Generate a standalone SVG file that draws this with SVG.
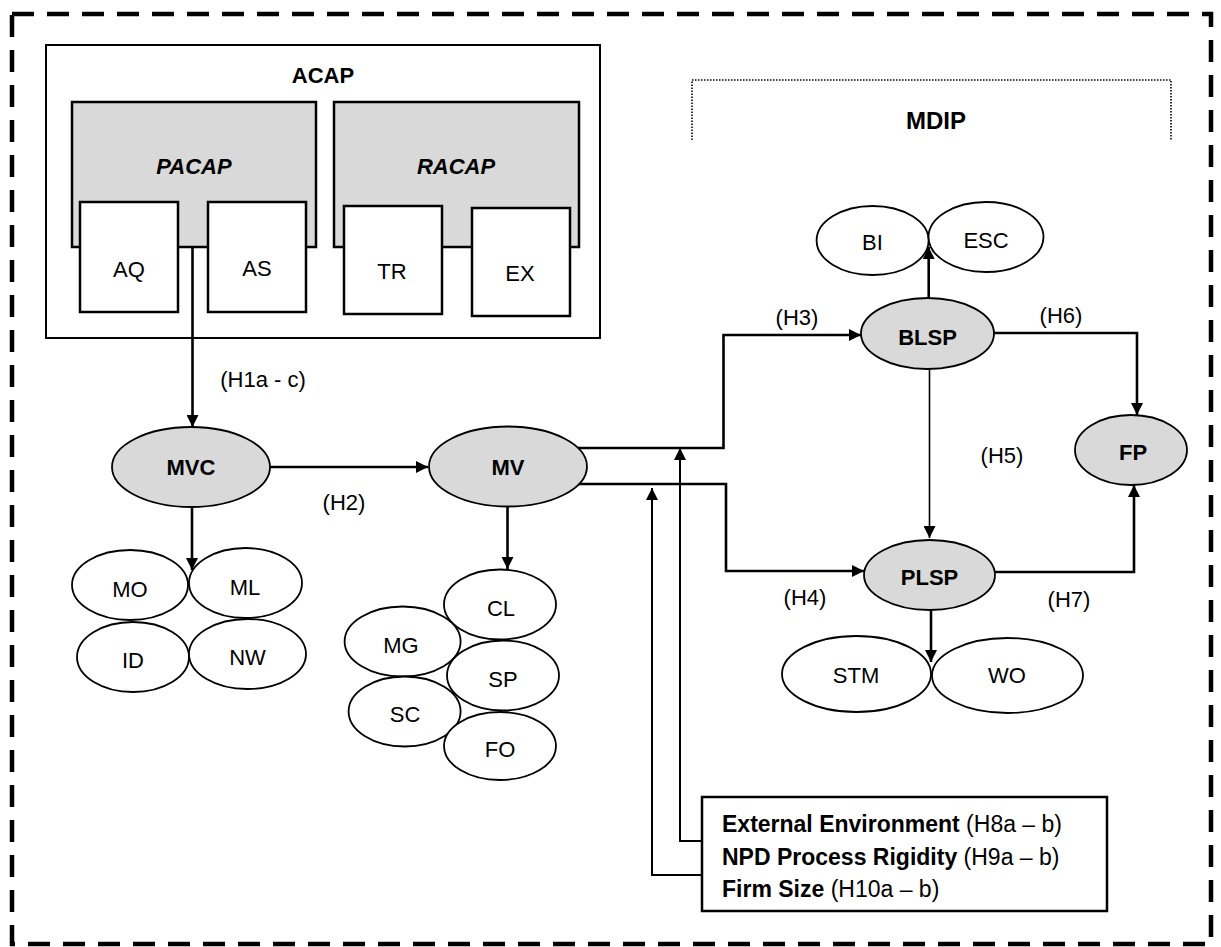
<svg xmlns="http://www.w3.org/2000/svg" width="1221" height="947" viewBox="0 0 1221 947">
<style>
text{font-family:"Liberation Sans",Arial,sans-serif;font-size:22px;fill:#000}
.b{font-weight:bold}
.bi{font-weight:bold;font-style:italic}
.c{text-anchor:middle}
.big{font-size:23px}
.nd{fill:#fff;stroke:#000;stroke-width:1.8}
.gr{fill:#d9d9d9;stroke:#000;stroke-width:1.8}
.bx{fill:#fff;stroke:#000;stroke-width:2.5}
.gbx{fill:#d9d9d9;stroke:#000;stroke-width:2.5}
.ln{fill:none;stroke:#000;stroke-width:2.6;marker-end:url(#ah)}
.thin{fill:none;stroke:#000;stroke-width:1.6;marker-end:url(#ah)}
.mod{fill:none;stroke:#000;stroke-width:2;marker-end:url(#ah)}
</style>
<defs>
<marker id="ah" markerUnits="userSpaceOnUse" markerWidth="12" markerHeight="12" refX="12" refY="6" orient="auto">
<path d="M0,0 L12,6 L0,12 z" fill="#000"/>
</marker>
</defs>
<rect x="0" y="0" width="1221" height="947" fill="#fff"/>
<g id="frame">
<rect x="12" y="14" width="1199" height="930" fill="none" stroke="#000" stroke-width="4.5" stroke-dasharray="22 13"/>
</g>
<g id="mdip">
<path d="M692,140 V80 H1171 V140" fill="none" stroke="#000" stroke-width="1.6" stroke-dasharray="1.5 1.5"/>
<text class="b c" x="936" y="129" style="font-size:24px">MDIP</text>
</g>
<g id="acap">
<rect x="46" y="45" width="554" height="293" fill="#fff" stroke="#000" stroke-width="2"/>
<text class="b c" x="323" y="83">ACAP</text>
</g>
<g id="pacap">
<rect class="gbx" x="72" y="102" width="244" height="145"/>
<text class="bi c" x="194" y="174">PACAP</text>
</g>
<g id="racap">
<rect class="gbx" x="334" y="102" width="245" height="145"/>
<text class="bi c" x="456" y="174">RACAP</text>
</g>
<g id="aq"><rect class="bx" x="80" y="202" width="98" height="110"/><text class="c" x="129" y="277">AQ</text></g>
<g id="as"><rect class="bx" x="208" y="202" width="98" height="110"/><text class="c" x="257" y="276">AS</text></g>
<g id="tr"><rect class="bx" x="344" y="206" width="98" height="108"/><text class="c" x="392" y="279">TR</text></g>
<g id="ex"><rect class="bx" x="472" y="208" width="98" height="108"/><text class="c" x="520" y="281">EX</text></g>

<g id="connectors">
<path class="ln" d="M192.5,247 V427"/>
<path class="ln" d="M270,467 H428"/>
<path class="ln" d="M192,507 V570"/>
<path class="ln" d="M507.5,507 V569"/>
<path class="ln" d="M578,448 H723.5 V335 H861"/>
<path class="ln" d="M578,484 H726 V571 H864"/>
<path class="ln" d="M928.7,298 V247"/>
<path class="ln" d="M994,333 H1137 V415"/>
<path class="thin" d="M929.5,369 V538"/>
<path class="ln" d="M995,572 H1134 V485"/>
<path class="ln" d="M931,610 V662"/>
<path class="mod" d="M702,841 H680 V448"/>
<path class="mod" d="M702,875 H652 V488"/>
</g>

<g id="labels">
<text class="c" x="263" y="387">(H1a - c)</text>
<text class="c" x="344" y="510">(H2)</text>
<text class="c" x="797" y="325">(H3)</text>
<text class="c" x="805" y="605">(H4)</text>
<text class="c" x="1002" y="463">(H5)</text>
<text class="c" x="1061" y="323">(H6)</text>
<text class="c" x="1069" y="607">(H7)</text>
</g>

<g id="mvc"><ellipse class="gr" cx="191" cy="467" rx="79" ry="40"/><text class="b c" x="191" y="475">MVC</text></g>
<g id="mv"><ellipse class="gr" cx="508" cy="466.5" rx="79" ry="40"/><text class="b c" x="508" y="475">MV</text></g>

<g id="mo"><ellipse class="nd" cx="130" cy="585" rx="58" ry="35"/><text class="c" x="130" y="597">MO</text></g>
<g id="ml"><ellipse class="nd" cx="245.5" cy="583" rx="56.5" ry="35"/><text class="c" x="245" y="595">ML</text></g>
<g id="id"><ellipse class="nd" cx="133" cy="657" rx="56" ry="35"/><text class="c" x="133" y="668">ID</text></g>
<g id="nw"><ellipse class="nd" cx="247.5" cy="654" rx="58.5" ry="35"/><text class="c" x="247.5" y="665">NW</text></g>

<g id="cl"><ellipse class="nd" cx="500" cy="604.5" rx="56" ry="35"/><text class="c" x="501" y="616">CL</text></g>
<g id="mg"><ellipse class="nd" cx="402.6" cy="641.5" rx="58" ry="35"/><text class="c" x="401" y="653">MG</text></g>
<g id="sp"><ellipse class="nd" cx="503" cy="675.5" rx="56" ry="35"/><text class="c" x="503" y="687">SP</text></g>
<g id="sc"><ellipse class="nd" cx="404.6" cy="711.5" rx="56" ry="35"/><text class="c" x="405" y="722">SC</text></g>
<g id="fo"><ellipse class="nd" cx="500" cy="746" rx="56" ry="34"/><text class="c" x="500" y="757">FO</text></g>

<g id="bi"><ellipse class="nd" cx="872.6" cy="240.5" rx="56" ry="34.5"/><text class="c" x="872.5" y="250">BI</text></g>
<g id="esc"><ellipse class="nd" cx="986" cy="237" rx="57.5" ry="35"/><text class="c" x="986" y="248">ESC</text></g>
<g id="blsp"><ellipse class="gr" cx="927.5" cy="333.5" rx="66.5" ry="35.5"/><text class="b c" x="927.5" y="345">BLSP</text></g>
<g id="fp"><ellipse class="gr" cx="1131" cy="450" rx="56" ry="35"/><text class="b c" x="1133" y="460">FP</text></g>
<g id="plsp"><ellipse class="gr" cx="929.5" cy="575" rx="65.5" ry="35"/><text class="b c" x="929.5" y="585">PLSP</text></g>
<g id="stm"><ellipse class="nd" cx="856.5" cy="674" rx="74.5" ry="38"/><text class="c" x="856" y="683">STM</text></g>
<g id="wo"><ellipse class="nd" cx="1007.5" cy="675.5" rx="75.5" ry="37.5"/><text class="c" x="1007" y="683">WO</text></g>

<g id="moderators">
<rect x="702" y="797" width="405" height="114" fill="#fff" stroke="#000" stroke-width="2.5"/>
<text class="big" x="722" y="832"><tspan class="b">External Environment</tspan> (H8a – b)</text>
<text class="big" x="722" y="865"><tspan class="b">NPD Process Rigidity</tspan> (H9a – b)</text>
<text class="big" x="722" y="897"><tspan class="b">Firm Size</tspan> (H10a – b)</text>
</g>
</svg>
